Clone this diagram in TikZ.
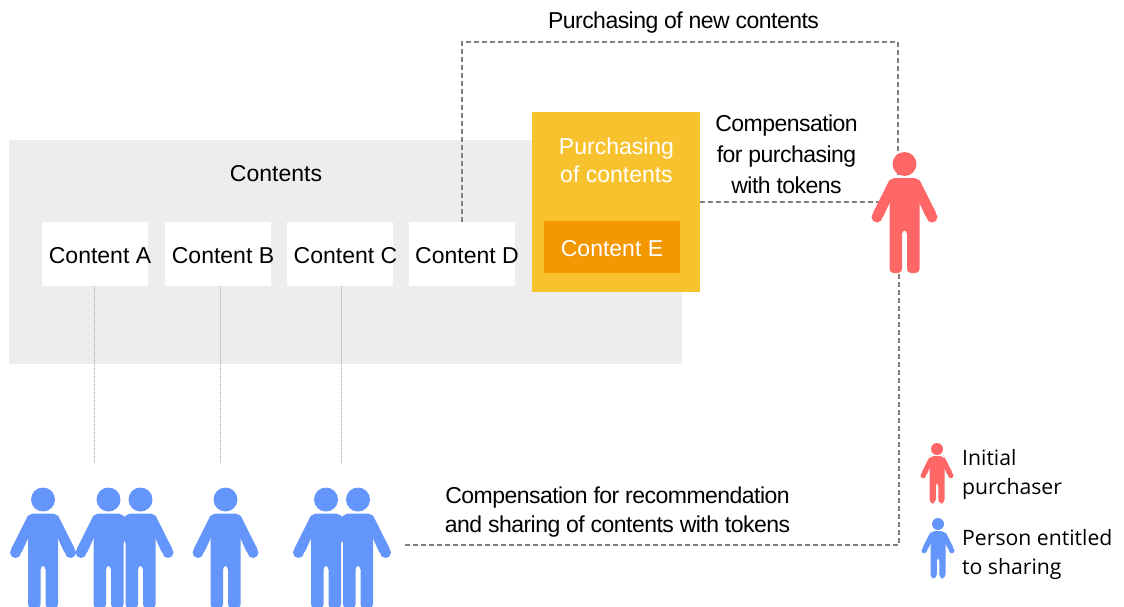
\documentclass[tikz,border=0pt]{standalone}
\usepackage{fontspec}
\setmainfont{Liberation Sans}
\newfontfamily\tightfont[LetterSpace=-2.3]{Liberation Sans}
\newfontfamily\legendfont{Open Sans}
\definecolor{redp}{HTML}{FF6666}
\definecolor{bluep}{HTML}{6495FA}
\definecolor{panel}{HTML}{EDEDED}
\definecolor{yellowb}{HTML}{F8C22E}
\definecolor{orangeb}{HTML}{F39800}
\definecolor{dashc}{HTML}{7F7F7F}
\definecolor{dotc}{HTML}{A6A6A6}
\tikzset{
  x=1pt,y=-1pt,
  contentbox/.style={fill=white,minimum width=106pt,minimum height=64pt,inner sep=0pt},
  boxtext/.style={inner sep=0pt,font=\fontsize{23}{28}\selectfont,text=black},
  lbl/.style={align=center,inner sep=0pt,font=\fontsize{23}{28}\selectfont,text=black},
  tightlbl/.style={align=center,inner sep=0pt,text=black},
  legendlbl/.style={align=left,anchor=west,inner sep=0pt,font=\legendfont\fontsize{21.2}{29}\selectfont,text=black},
  dashline/.style={draw=dashc,line width=1.5pt,dash pattern=on 5pt off 3pt},
  dotline/.style={draw=dotc,line width=1pt,dash pattern=on 1pt off 1pt},
  anchorpt/.style={inner sep=0pt,minimum size=0pt},
  person/.pic={
    \fill[pic actions] (0,0) circle (12);
    \fill[pic actions,rounded corners=4] (-14,14) -- (14,14) -- (15,20) -- (15,109) -- (2.5,109) -- (2.5,66) -- (-2.5,66) -- (-2.5,109) -- (-15,109) -- (-15,20) -- cycle;
    \fill[pic actions] (-27.5,53) circle (5.5) (27.5,53) circle (5.5);
    \fill[pic actions,rounded corners=3] (-14,14) -- (-32.6,50.9) -- (-22.4,55.1) -- (-8,24) -- cycle;
    \fill[pic actions,rounded corners=3] (14,14) -- (32.6,50.9) -- (22.4,55.1) -- (8,24) -- cycle;
  }
}
\begin{document}
\begin{tikzpicture}
\useasboundingbox (0,0) rectangle (1124,606);
\node[fill=panel,minimum width=673pt,minimum height=224pt,inner sep=0pt] (panelbox) at (345.5,252) {};
\node[lbl] (contentslbl) at (276,174) {Contents};
\node[contentbox] (ca) at (95,254) {};
\node[contentbox] (cb) at (218,254) {};
\node[contentbox] (cc) at (340,254) {};
\node[contentbox] (cd) at (462,254) {};
\node[boxtext] (ta) at (100,255.5) {Content A};
\node[boxtext] (tb) at (223,255.5) {Content B};
\node[boxtext] (tc) at (345.5,255.5) {Content C};
\node[boxtext] (td) at (467,255.5) {Content D};
\node[fill=yellowb,minimum width=168pt,minimum height=180pt,inner sep=0pt] (yb) at (616,202) {};
\node[lbl,text=white] (yl) at (616.5,160) {Purchasing\\of contents};
\node[fill=orangeb,minimum width=136pt,minimum height=52pt,inner sep=0pt] (ce) at (612,247) {};
\node[boxtext,text=white] (cet) at (612,249) {Content E};
\node[tightlbl,font=\tightfont\fontsize{23}{28}\selectfont] (l1) at (683.5,22.5) {Purchasing of new contents};
\node[tightlbl,font=\tightfont\fontsize{23}{31}\selectfont] (l2) at (786.5,154) {Compensation\\for purchasing\\with tokens};
\node[tightlbl,font=\tightfont\fontsize{23}{29}\selectfont] (l3) at (617.5,512) {Compensation for recommendation\\and sharing of contents with tokens};
\node[legendlbl] (l4) at (962,474) {Initial\\purchaser};
\node[legendlbl] (l5) at (962,554) {Person entitled\\to sharing};
% anchors
\node[anchorpt] (pr) at (899,202) {};
\coordinate (c1) at (462,42);
\coordinate (c2) at (898,42);
\coordinate (c3) at (899,545);
\coordinate (e0) at (403,545);
\coordinate (ea) at (94,463);
\coordinate (eb) at (220,463);
\coordinate (ec) at (341,463);
\coordinate (sa) at (94,286);
\coordinate (sb) at (220,286);
\coordinate (sc) at (341,286);
% connectors
\draw[dashline] (cd.north) -- (c1) -- (c2) -- (c2 |- pr);
\draw[dashline] (yb.east) -- (pr.center);
\draw[dashline] (pr.center) -- (c3) -- (e0);
\draw[dotline] (sa) -- (ea);
\draw[dotline] (sb) -- (eb);
\draw[dotline] (sc) -- (ec);
% people
\pic[fill=redp] at (904.5,164) {person};
\foreach \px in {43,108.5,140.5,225.5,326,358}
  \pic[fill=bluep] at (\px,499.5) {person};
\pic[fill=redp,scale=0.5] at (937,449) {person};
\pic[fill=bluep,scale=0.5] at (938,524) {person};
\end{tikzpicture}
\end{document}
